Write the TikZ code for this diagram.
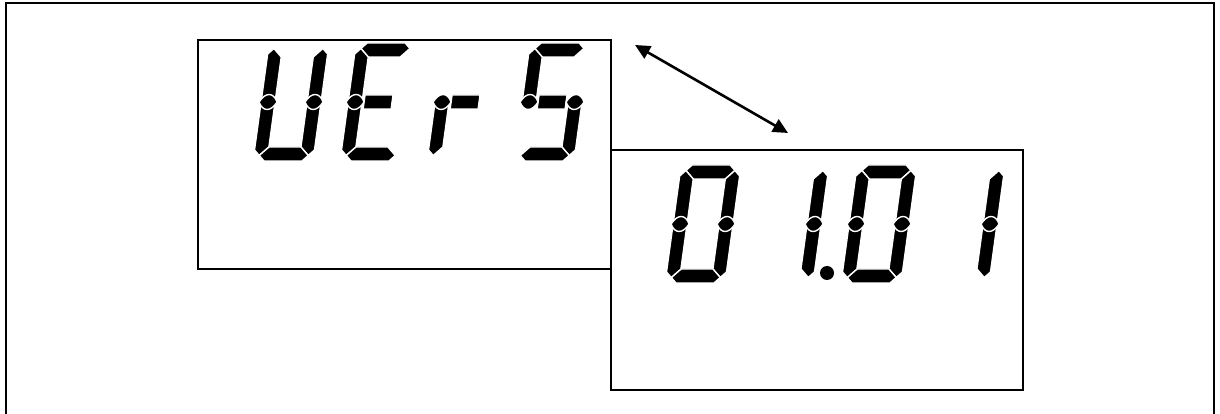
\documentclass[tikz,border=0pt]{standalone}
\usetikzlibrary{arrows.meta}
\tikzset{
  frame/.style ={line width=2pt},
  panel/.style ={draw, rectangle, fill=white, line width=1.6pt, inner sep=0pt, outer sep=0pt, anchor=south west},
  seg/.style   ={fill=black, draw=white, line width=1.4pt, line join=round},
  arr/.style   ={{Triangle[length=15pt,width=14pt]}-{Triangle[length=15pt,width=14pt]}, line width=2.6pt},
  % seven segments, upright digit 60 x 118
  lcd a/.style={insert path={(5.5,112.5) -- (11,118) -- (49,118) -- (54.5,112.5) -- (46,104) -- (14,104) -- cycle}},
  lcd d/.style={insert path={(5.5,5.5) -- (11,0) -- (49,0) -- (54.5,5.5) -- (46,14) -- (14,14) -- cycle}},
  lcd f/.style={insert path={(0,107) -- (5.5,112.5) -- (14,104) -- (14,59) -- (0,59) -- cycle}},
  lcd e/.style={insert path={(0,11) -- (5.5,5.5) -- (14,14) -- (14,59) -- (0,59) -- cycle}},
  lcd b/.style={insert path={(60,107) -- (54.5,112.5) -- (46,104) -- (46,59) -- (60,59) -- cycle}},
  lcd c/.style={insert path={(60,11) -- (54.5,5.5) -- (46,14) -- (46,59) -- (60,59) -- cycle}},
  lcd g/.style={insert path={(16,52) rectangle (44,66)}},
  lcd l/.style={insert path={(-2,59) .. controls (3,69) and (11,69) .. (16,59) .. controls (11,49) and (3,49) .. (-2,59) -- cycle}},
  lcd r/.style={insert path={(44,59) .. controls (49,69) and (57,69) .. (62,59) .. controls (57,49) and (49,49) .. (44,59) -- cycle}},
}
\newcommand{\lcddigit}[3]{%
  \begin{scope}[shift={(#1,#2)}, xslant=0.137]
    \foreach \s in {#3} {\path[seg, lcd \s];}
  \end{scope}}

\begin{document}
\begin{tikzpicture}[x=1pt, y=1pt]
  \useasboundingbox (0,0) rectangle (1220,414);
  \draw[frame] (6,0) -- (6,411) -- (1214,411) -- (1214,0);

  \node[panel, minimum width=413pt, minimum height=229pt] (vers) at (198,145) {};
  \node[panel, minimum width=412pt, minimum height=240pt] (ver)  at (611,24)  {};

  % VErS
  \lcddigit{253}{253}{f,e,b,c,d,l,r}
  \lcddigit{340}{253}{a,f,e,g,d,l}
  \lcddigit{427}{253}{e,g,l}
  \lcddigit{514}{253}{a,f,g,c,d,l,r}
  % 01.01
  \lcddigit{665}{131}{a,b,c,d,e,f,l,r}
  \lcddigit{753}{131}{b,c,r}
  \lcddigit{841}{131}{a,b,c,d,e,f,l,r}
  \lcddigit{929}{131}{b,c,r}
  \fill (827,141) circle (7);

  \coordinate (tipA) at (635,369);
  \coordinate (tipB) at (788,281);
  \draw[arr] (tipA) -- (tipB);
\end{tikzpicture}
\end{document}
